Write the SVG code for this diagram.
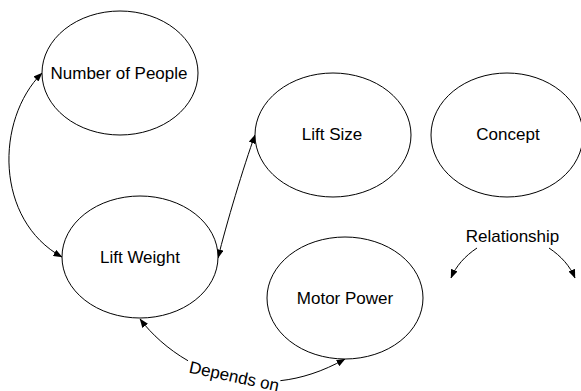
<svg xmlns="http://www.w3.org/2000/svg" width="581" height="391" viewBox="0 0 581 391">
<style>
.n ellipse{fill:#fff;stroke:#000;stroke-width:1}
text{font-family:"Liberation Sans",Arial,sans-serif;font-size:17px;fill:#000}
.n text{text-anchor:middle}
.c path{fill:none;stroke:#000;stroke-width:1}
</style>
<defs>
<marker id="ah" markerWidth="9" markerHeight="7" refX="8.5" refY="3.5" orient="auto-start-reverse" markerUnits="userSpaceOnUse">
<path d="M0,0 L9,3.5 L0,7 z" fill="#000"/>
</marker>
</defs>
<rect width="581" height="391" fill="#fff"/>
<g id="connectors" class="c">
<path d="M62,257 C-5,220 -5,120 42,73" marker-start="url(#ah)" marker-end="url(#ah)"/>
<path d="M218,258 C226,225 244,165 255,135" marker-start="url(#ah)" marker-end="url(#ah)"/>
<path d="M140,319 C175,365 255,410 345,359" pathLength="100" stroke-dasharray="0 0.01 28 42 30" marker-start="url(#ah)" marker-end="url(#ah)"/>
<text x="233" y="382" text-anchor="middle" transform="rotate(12 233 382)">Depends on</text>
<path d="M477,248 C465,256 456,266 451,278" marker-end="url(#ah)"/>
<path d="M549,248 C561,256 570,266 575,278" marker-end="url(#ah)"/>
<text x="512.5" y="242" text-anchor="middle">Relationship</text>
</g>
<g id="number-of-people" class="n"><ellipse cx="120" cy="73" rx="78" ry="62"/><text x="119" y="79">Number of People</text></g>
<g id="lift-weight" class="n"><ellipse cx="140" cy="257" rx="78" ry="61"/><text x="140" y="263">Lift Weight</text></g>
<g id="lift-size" class="n"><ellipse cx="333" cy="135" rx="78" ry="62"/><text x="332" y="140">Lift Size</text></g>
<g id="concept" class="n"><ellipse cx="507" cy="135" rx="76" ry="62"/><text x="508" y="140">Concept</text></g>
<g id="motor-power" class="n"><ellipse cx="345" cy="298" rx="78" ry="61"/><text x="345" y="304">Motor Power</text></g>
</svg>
